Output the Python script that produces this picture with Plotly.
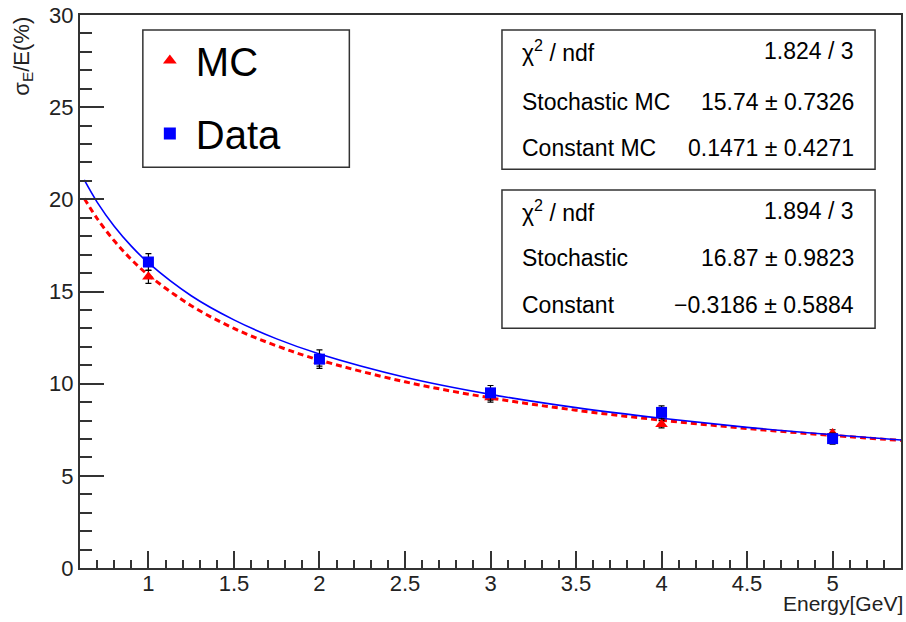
import plotly.graph_objects as go

# ---- data ----
energy = [1, 2, 3, 4, 5]
mc_res = [15.8, 11.25, 9.25, 7.8, 7.3]
mc_err = [0.36, 0.3, 0.25, 0.2, 0.2]
data_res = [16.6, 11.33, 9.5, 8.44, 7.02]
data_err = [0.46, 0.5, 0.4, 0.35, 0.3]

# fit curves
fit_x = [0.625, 0.7, 0.8, 0.9, 1.0, 1.25, 1.5, 1.75, 2.0, 2.5, 3.0, 3.5, 4.0, 4.5, 5.0, 5.4]
fit_mc = [20.05, 18.96, 17.75, 16.74, 15.89, 14.23, 13.0, 12.05, 11.28, 10.10, 9.23, 8.56, 8.02, 7.57, 7.19, 6.92]
fit_data = [21.05, 19.85, 18.54, 17.46, 16.55, 14.77, 13.46, 12.43, 11.61, 10.35, 9.42, 8.70, 8.12, 7.63, 7.23, 6.94]

stats_mc = [("χ<sup>2</sup> / ndf", "1.824 / 3"),
            ("Stochastic MC", "15.74 ± 0.7326"),
            ("Constant MC", "0.1471 ± 0.4271")]
stats_data = [("χ<sup>2</sup> / ndf", "1.894 / 3"),
              ("Stochastic", "16.87 ± 0.9823"),
              ("Constant", "−0.3186 ± 0.5884")]

FONT = "Liberation Sans, Arial, Helvetica, sans-serif"
W, H = 906, 622
L, R, T, B = 80, 3, 12, 54
PW, PH = W - L - R, H - T - B


def px(xp):
    return (xp - L) / PW


def py(yp):
    return (H - B - yp) / PH


fig = go.Figure()

fig.add_trace(go.Scatter(x=fit_x, y=fit_mc, mode="lines", line=dict(color="red", width=3, dash="6px,4px", shape="spline"),
                         showlegend=False, hoverinfo="skip"))
fig.add_trace(go.Scatter(x=fit_x, y=fit_data, mode="lines", line=dict(color="blue", width=1.6, shape="spline"),
                         showlegend=False, hoverinfo="skip"))

fig.add_trace(go.Scatter(x=energy, y=mc_res, mode="markers", name="MC", legendgroup="mc",
                         marker=dict(symbol="triangle-up", size=11, color="red"),
                         error_y=dict(type="data", array=mc_err, color="black", thickness=1.2, width=3)))
fig.add_trace(go.Scatter(x=energy, y=data_res, mode="markers", name="Data", legendgroup="data",
                         marker=dict(symbol="square", size=11, color="blue"),
                         error_y=dict(type="data", array=data_err, color="black", thickness=1.2, width=3)))

shapes = []
# legend box
shapes.append(dict(type="rect", xref="paper", yref="paper", x0=px(143), x1=px(350), y0=py(165), y1=py(27),
                   line=dict(color="#333", width=1.5), fillcolor="white", layer="below"))
# stats boxes
shapes.append(dict(type="rect", xref="paper", yref="paper", x0=px(503), x1=px(877), y0=py(167), y1=py(27),
                   line=dict(color="#333", width=1.5), fillcolor="white", layer="below"))
shapes.append(dict(type="rect", xref="paper", yref="paper", x0=px(503), x1=px(877), y0=py(327), y1=py(188),
                   line=dict(color="#333", width=1.5), fillcolor="white", layer="below"))

annotations = []
rows1 = [48, 99, 146]
rows2 = [209, 256, 304]
for (lab, val), yy in list(zip(stats_mc, rows1)) + list(zip(stats_data, rows2)):
    annotations.append(dict(xref="paper", yref="paper", x=px(521), y=py(yy), xanchor="left", yanchor="middle",
                            text=lab, showarrow=False, font=dict(family=FONT, size=23, color="black")))
    annotations.append(dict(xref="paper", yref="paper", x=px(858), y=py(yy), xanchor="right", yanchor="middle",
                            text=val, showarrow=False, font=dict(family=FONT, size=23, color="black")))

annotations.append(dict(xref="paper", yref="paper", x=px(907), y=py(604), xanchor="right", yanchor="middle",
                        text="Energy[GeV]", showarrow=False, font=dict(family=FONT, size=21, color="#222")))
annotations.append(dict(xref="paper", yref="paper", x=px(22), y=1, xanchor="center", yanchor="top",
                        text="σ<sub>E</sub>/E(%)", textangle=-90, showarrow=False,
                        font=dict(family=FONT, size=22, color="#222")))

fig.update_layout(
    width=W, height=H,
    margin=dict(l=L, r=R, t=T, b=B),
    paper_bgcolor="white", plot_bgcolor="white",
    font=dict(family=FONT, size=21, color="#222"),
    shapes=shapes, annotations=annotations,
    legend=dict(x=px(144), y=py(25), xanchor="left", yanchor="top", bgcolor="rgba(0,0,0,0)",
                borderwidth=0, font=dict(family=FONT, size=40, color="black"), itemwidth=42,
                traceorder="grouped", tracegroupgap=18, itemsizing="constant"),
    xaxis=dict(range=[0.6, 5.4], tick0=0, dtick=0.5, ticks="inside", ticklen=17, tickwidth=1.5, tickcolor="#333",
               showline=True, linecolor="#333", linewidth=2, mirror=True, showgrid=False, zeroline=False,
               ticklabelstandoff=-5, ticklabeloverflow="allow",
               tickfont=dict(family=FONT, size=22, color="#222"),
               minor=dict(dtick=0.1, ticks="inside", ticklen=8, tickwidth=1.5, tickcolor="#333", showgrid=False)),
    yaxis=dict(range=[0, 30], dtick=5, ticks="inside", ticklen=24, tickwidth=1.5, tickcolor="#333",
               showline=True, linecolor="#333", linewidth=2, mirror=True, showgrid=False, zeroline=False,
               ticklabeloverflow="allow",
               tickfont=dict(family=FONT, size=22, color="#222"),
               minor=dict(dtick=1, ticks="inside", ticklen=12, tickwidth=1.5, tickcolor="#333", showgrid=False)),
)

fig.write_html("out.html", config={"displayModeBar": False},
               post_script="document.body.style.margin='0';document.body.style.overflow='hidden';")
